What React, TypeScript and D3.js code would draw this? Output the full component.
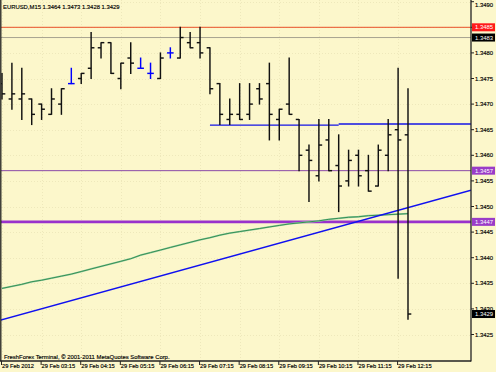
import React from 'react';
import * as d3 from 'd3';

// ---- data ----
const opens = [1.3474, 1.3471, 1.3471, 1.3471, 1.3470, 1.3468, 1.3470, 1.3474, 1.3475, 1.3477,
  1.3481, 1.3482, 1.3475, 1.3479, 1.3477, 1.3476, 1.3475, 1.3480, 1.3479, 1.3482,
  1.3482, 1.3481, 1.3474, 1.3467, 1.3468, 1.3468, 1.3473, 1.3474, 1.3467, 1.3470,
  1.3467, 1.3461, 1.3456, 1.3463, 1.3458, 1.3455, 1.3460, 1.3457, 1.3454, 1.3460,
  1.3465, 1.3464];
const highs = [1.3476, 1.3478, 1.3477, 1.3471, 1.3470, 1.3473, 1.3473, 1.3477, 1.3476, 1.3484,
  1.3482, 1.3482, 1.3478, 1.3482, 1.3479, 1.3478, 1.3480, 1.3481, 1.3485, 1.3484,
  1.3485, 1.3481, 1.3474, 1.3471, 1.3474, 1.3474, 1.3474, 1.3478, 1.3469, 1.3479,
  1.3467, 1.3462, 1.3467, 1.3467, 1.3464, 1.3461, 1.3461, 1.3460, 1.3462, 1.3467,
  1.3477, 1.3473];
const lows = [1.3471, 1.3469, 1.3467, 1.3466, 1.3467, 1.3468, 1.3468, 1.3474, 1.3474, 1.3475,
  1.3479, 1.3476, 1.3473, 1.3476, 1.3477, 1.3475, 1.3475, 1.3479, 1.3479, 1.3481,
  1.3479, 1.3472, 1.3466, 1.3466, 1.3467, 1.3467, 1.3470, 1.3463, 1.3463, 1.3468,
  1.3457, 1.3451, 1.3455, 1.3457, 1.3449, 1.3454, 1.3454, 1.3453, 1.3454, 1.3457,
  1.3436, 1.3428];
const closes = [1.3472, 1.3472, 1.3472, 1.3468, 1.3469, 1.3471, 1.3473, 1.3474, 1.3476, 1.3481,
  1.3482, 1.3476, 1.3478, 1.3478, 1.3477, 1.3476, 1.3479, 1.3480, 1.3483, 1.3481,
  1.3480, 1.3473, 1.3468, 1.3468, 1.3467, 1.3470, 1.3471, 1.3468, 1.3469, 1.3468,
  1.3460, 1.3459, 1.3462, 1.3457, 1.3454, 1.3459, 1.3456, 1.3453, 1.3461, 1.3464,
  1.3463, 1.3429];
const maValues = [1.34340, 1.34344, 1.34348, 1.34353, 1.34356, 1.34360, 1.34364, 1.34368, 1.34373, 1.34378,
  1.34383, 1.34388, 1.34393, 1.34398, 1.34405, 1.34410, 1.34415, 1.34420, 1.34425, 1.34430,
  1.34435, 1.34439, 1.34444, 1.34448, 1.34451, 1.34454, 1.34457, 1.34460, 1.34463, 1.34466,
  1.34468, 1.34470, 1.34472, 1.34475, 1.34477, 1.34479, 1.34480, 1.34482, 1.34483, 1.34484,
  1.34485, 1.34486];
const priceTicks = [1.3425, 1.3430, 1.3435, 1.3440, 1.3445, 1.3450, 1.3455, 1.3460, 1.3465,
  1.3470, 1.3475, 1.3480, 1.3485, 1.3490];
const timeLabels = ['29 Feb 2012', '29 Feb 03:15', '29 Feb 04:15', '29 Feb 05:15', '29 Feb 06:15',
  '29 Feb 07:15', '29 Feb 08:15', '29 Feb 09:15', '29 Feb 10:15', '29 Feb 11:15', '29 Feb 12:15'];
const timeLabelBars = [0, 4, 8, 12, 16, 20, 24, 28, 32, 36, 40];
const levelPrices = [1.3485, 1.3483, 1.3457, 1.3447];
const levelLabels = ['1.3485', '1.3483', '1.3457', '1.3447'];
const bidPrice = 1.3429;
const bidLabel = '1.3429';
const trendBars = [0, 41];
const trendPrices = [1.34279, 1.34498];
const hLineStartBars = [21, 34];
const hLinePrices = [1.34659, 1.34661];
const header = 'EURUSD,M15  1.3464 1.3473 1.3428 1.3429';
const footer = 'FreshForex Terminal, \u00A9 2001-2011 MetaQuotes Software Corp.';

const W = 496, H = 372;
const PLOT_R = 471, PLOT_B = 361;
const BG = '#fcf7cb';
const FONT = 'Liberation Sans, Arial, sans-serif';
const levelStyles = [
  { line: '#e8502a', w: 1, box: '#ff1a1a' },
  { line: '#a8a490', w: 1, box: '#000000' },
  { line: '#8a4aa8', w: 1, box: '#9a3cc8' },
  { line: '#9932cc', w: 2.6, box: '#9a3cc8' },
];

export default function App() {
  const x = d3.scaleLinear().domain([0, 41]).range([2, 408]);
  const y = d3.scaleLinear().domain([1.3425, 1.3490]).range([334.5, 1.7]);
  const bars = d3.range(opens.length);

  const maLine = d3.line<number>().x((i) => x(i)).y((i) => y(maValues[i]))(bars) || '';

  const tScale = d3.scaleLinear().domain(trendBars).range(trendPrices);
  const tb0 = x.invert(0), tb1 = x.invert(PLOT_R);
  const txt = { fill: '#000', stroke: '#000', strokeWidth: 0.15 };

  return (
    <svg width={W} height={H} style={{ position: 'absolute', left: 0, top: 0, background: BG }}
      fontFamily={FONT}>
      <defs>
        <clipPath id="plot"><rect x={1} y={0} width={PLOT_R - 1} height={PLOT_B} /></clipPath>
      </defs>
      <rect x={0} y={0} width={W} height={H} fill={BG} />
      {/* grid */}
      <g stroke="#e0d8aa" strokeWidth={0.8} strokeDasharray="1,2" opacity={0.6}>
        {priceTicks.map((p) => (
          <line key={'g' + p} x1={1} x2={PLOT_R} y1={Math.round(y(p)) + 0.5} y2={Math.round(y(p)) + 0.5} />
        ))}
        {timeLabelBars.map((b) => (
          <line key={'v' + b} x1={Math.round(x(b)) + 0.5} x2={Math.round(x(b)) + 0.5} y1={0} y2={PLOT_B} />
        ))}
      </g>
      <g clipPath="url(#plot)">
        {levelPrices.map((p, k) => (
          <line key={'l' + k} x1={0} x2={PLOT_R} y1={y(p)} y2={y(p)}
            stroke={levelStyles[k].line} strokeWidth={levelStyles[k].w} />
        ))}
        <path d={maLine} fill="none" stroke="#9ccfa6" strokeWidth={1.8} />
        <path d={maLine} fill="none" stroke="#2a8a4a" strokeWidth={0.9} />
        <line x1={0} x2={PLOT_R} y1={y(tScale(tb0))} y2={y(tScale(tb1))} stroke="#1010f0" strokeWidth={1.5} />
        {hLineStartBars.map((b, k) => (
          <line key={'h' + k} x1={x(b)} x2={k + 1 < hLineStartBars.length ? x(hLineStartBars[k + 1]) : PLOT_R}
            y1={y(hLinePrices[k])} y2={y(hLinePrices[k])} stroke="#1414e6" strokeWidth={1.4} />
        ))}
        {bars.map((i) => {
          const cx = x(i);
          const col = opens[i] === closes[i] ? '#0000ff' : '#111111';
          return (
            <g key={'b' + i} stroke={col} strokeWidth={1.45}>
              <line x1={cx} x2={cx} y1={y(highs[i]) - 0.5} y2={y(lows[i]) + 0.5} />
              <line x1={cx - 3.3} x2={cx} y1={y(opens[i])} y2={y(opens[i])} />
              <line x1={cx} x2={cx + 3.3} y1={y(closes[i])} y2={y(closes[i])} />
            </g>
          );
        })}
      </g>
      <line x1={0.8} x2={0.8} y1={0} y2={PLOT_B} stroke="#222" strokeWidth={1.3} />
      <line x1={PLOT_R} x2={PLOT_R} y1={0} y2={PLOT_B + 0.5} stroke="#222" strokeWidth={1.3} />
      <line x1={0} x2={PLOT_R} y1={PLOT_B} y2={PLOT_B} stroke="#222" strokeWidth={1.3} />
      <text x={3} y={8.5} fontSize={5.9} {...txt}>{header}</text>
      <text x={4} y={358.5} fontSize={5.9} {...txt}>{footer}</text>
      {priceTicks.map((p) => {
        const py = Math.max(y(p), 5);
        return (
          <g key={'p' + p}>
            <line x1={PLOT_R} x2={PLOT_R + 3} y1={y(p)} y2={y(p)} stroke="#222" strokeWidth={1} />
            <text x={475} y={py + 2.1} fontSize={5.9} {...txt}>{d3.format('.4f')(p)}</text>
          </g>
        );
      })}
      {levelPrices.map((p, k) => (
        <g key={'lb' + k}>
          <rect x={472} y={y(p) - 4} width={23} height={8} fill={levelStyles[k].box} />
          <text x={475} y={y(p) + 2.1} fontSize={5.9} fill="#fff">{levelLabels[k]}</text>
        </g>
      ))}
      <rect x={472} y={y(bidPrice) - 4} width={23} height={8} fill="#000" />
      <text x={475} y={y(bidPrice) + 2.1} fontSize={5.9} fill="#fff">{bidLabel}</text>
      {timeLabelBars.map((b, k) => (
        <g key={'t' + k}>
          <line x1={x(b) - 0.5} x2={x(b) - 0.5} y1={PLOT_B} y2={PLOT_B + 4} stroke="#222" strokeWidth={1} />
          <text x={x(b)} y={368} fontSize={5.7} {...txt}>{timeLabels[k]}</text>
        </g>
      ))}
    </svg>
  );
}
